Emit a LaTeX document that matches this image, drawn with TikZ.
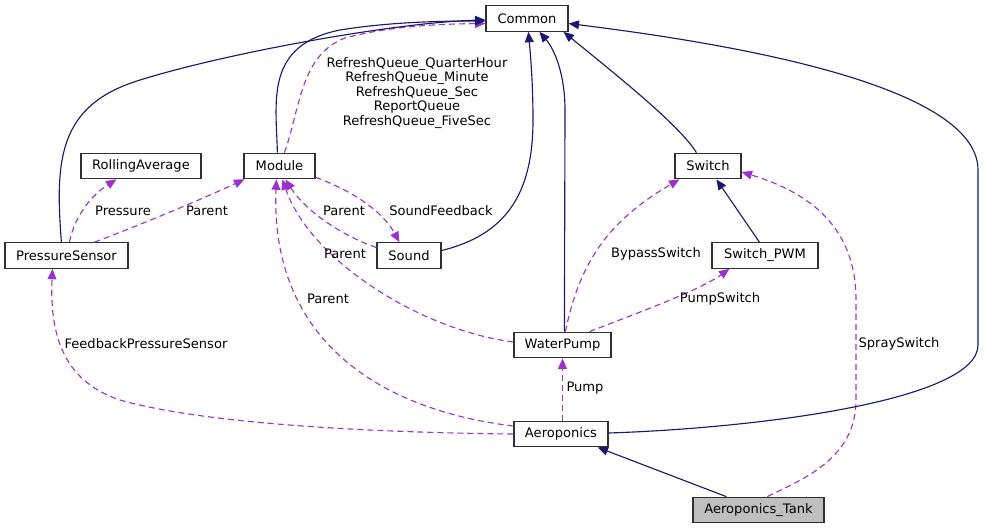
\documentclass[tikz,border=0pt]{standalone}
\usepackage{fontspec}
\setmainfont{DejaVu Sans}
\usetikzlibrary{arrows.meta,calc}
\definecolor{inh}{HTML}{191970}
\definecolor{use}{HTML}{9A32CD}
\definecolor{boxline}{HTML}{303030}
\definecolor{tankfill}{HTML}{BFBFBF}
\begin{document}
\begin{tikzpicture}[x=0.75pt,y=-0.75pt,
  every node/.style={font=\fontsize{9.8}{10.9}\selectfont},
  cls/.style={draw=boxline,line width=0.9pt,fill=white,inner sep=0pt,minimum height=#1*0.75pt},
  cls/.default=25.5,
  inharr/.style={draw=inh,line width=0.85pt,-{Triangle[length=7.8pt,width=6.6pt]},fill=none},
  usearr/.style={draw=use,line width=0.85pt,dash pattern=on 4.5pt off 3pt,-{Triangle[length=7.8pt,width=6.6pt]}},
  lbl/.style={inner sep=0pt,align=center}]
\useasboundingbox (0,0) rectangle (984,529);

% classes
\node[cls,minimum width=82*0.75pt] (Common) at (527,18.5) {Common};
\node[cls,minimum width=71*0.75pt] (Module) at (279.5,166) {Module};
\node[cls,minimum width=120*0.75pt] (RA) at (141,166) {RollingAverage};
\node[cls,minimum width=123*0.75pt] (PS) at (66.5,255.5) {PressureSensor};
\node[cls,minimum width=64*0.75pt] (Sound) at (409,255.5) {Sound};
\node[cls,minimum width=66*0.75pt] (Switch) at (708,166) {Switch};
\node[cls,minimum width=106*0.75pt] (SwitchPWM) at (765,255.5) {Switch\_PWM};
\node[cls,minimum width=97*0.75pt] (WaterPump) at (562.5,345) {WaterPump};
\node[cls,minimum width=94*0.75pt] (Aeroponics) at (561,434) {Aeroponics};
\node[cls,minimum width=131*0.75pt,fill=tankfill] (Tank) at (758.5,510) {Aeroponics\_Tank};

% usage (dashed) connectors
\draw[usearr] ($(Module.north west)+(41,0)$) .. controls (300,110) and (300,55) .. (345,38) .. controls (390,26) and (440,24) .. ($(Common.west)+(0,5)$);
\draw[usearr] ($(PS.north west)+(65,0)$) .. controls (75,215) and (92,195) .. ($(RA.south west)+(36,0)$);
\draw[usearr] ($(PS.north west)+(90,0)$) .. controls (140,225) and (200,200) .. ($(Module.south west)+(1,0)$);
\draw[usearr] ($(Module.south east)+(0,-2)$) .. controls (350,190) and (382,210) .. ($(Sound.north west)+(23,0)$);
\draw[usearr] ($(Sound.west)+(0,-8)$) .. controls (340,235) and (305,210) .. ($(Module.south west)+(42,0)$);
\draw[usearr] ($(WaterPump.west)+(0,-3)$) .. controls (420,330) and (310,260) .. ($(Module.south west)+(39,0)$);
\draw[usearr] ($(Aeroponics.west)+(0,-8)$) .. controls (380,410) and (270,340) .. ($(Module.south west)+(33,0)$);
\draw[usearr] (Aeroponics.west) .. controls (330,432) and (190,420) .. (120,400) .. controls (60,380) and (50,330) .. ($(PS.south west)+(48,0)$);
\draw[usearr] ($(WaterPump.north west)+(52,0)$) .. controls (580,260) and (610,220) .. ($(Switch.south west)+(5,0)$);
\draw[usearr] ($(WaterPump.north west)+(76,0)$) .. controls (640,312) and (700,290) .. ($(SwitchPWM.south west)+(18,0)$);
\draw[usearr] (WaterPump.south |- Aeroponics.north) -- (WaterPump.south);
\draw[usearr] ($(Tank.north west)+(75,0)$) .. controls (800,480) and (856,460) .. (856,400) -- (856,300) .. controls (856,220) and (800,190) .. ($(Switch.east)+(0,6)$);

% inheritance / solid connectors
\draw[inharr] ($(PS.north west)+(57,0)$) .. controls (55,160) and (58,105) .. (140,80) .. controls (230,52) and (400,22) .. ($(Common.west)+(0,1.5)$);
\draw[inharr] ($(Module.north west)+(34,0)$) .. controls (276,100) and (265,45) .. (340,30) .. controls (390,22) and (440,21) .. ($(Common.west)+(0,2.5)$);
\draw[inharr] ($(Sound.east)+(0,-5)$) .. controls (505,235) and (533,195) .. (533,120) .. controls (533,80) and (530,50) .. ($(Common.south west)+(43,0)$);
\draw[inharr] ($(WaterPump.north west)+(51,0)$) -- (565,110) .. controls (565,75) and (555,50) .. ($(Common.south west)+(54,0)$);
\draw[inharr] ($(Switch.north west)+(22,0)$) .. controls (680,125) and (610,70) .. ($(Common.south east)+(-5,0)$);
\draw[inharr] ($(Aeroponics.east)+(0,-1)$) .. controls (760,428) and (978,400) .. (978,345) -- (978,170) .. controls (978,80) and (700,40) .. ($(Common.east)+(0,5)$);
\draw[inharr] ($(SwitchPWM.north west)+(48,0)$) -- ($(Switch.south west)+(42,0)$);
\draw[inharr] ($(Tank.north west)+(34,0)$) -- ($(Aeroponics.south east)+(-11,0)$);

% labels
\node[lbl] (lq) at (417,93) {RefreshQueue\_QuarterHour\\RefreshQueue\_Minute\\RefreshQueue\_Sec\\ReportQueue\\RefreshQueue\_FiveSec};
\node[lbl] (lpress) at (123,211) {Pressure};
\node[lbl] (lpar1) at (207,211) {Parent};
\node[lbl] (lpar2) at (344,211) {Parent};
\node[lbl] (lsf) at (441,211) {SoundFeedback};
\node[lbl] (lpar3) at (345,254) {Parent};
\node[lbl] (lpar4) at (328,299) {Parent};
\node[lbl] (lbyp) at (656,254) {BypassSwitch};
\node[lbl] (lpsw) at (720,299) {PumpSwitch};
\node[lbl] (lfps) at (146,344) {FeedbackPressureSensor};
\node[lbl] (lspray) at (899,344) {SpraySwitch};
\node[lbl] (lpump) at (585,388) {Pump};
\end{tikzpicture}
\end{document}
